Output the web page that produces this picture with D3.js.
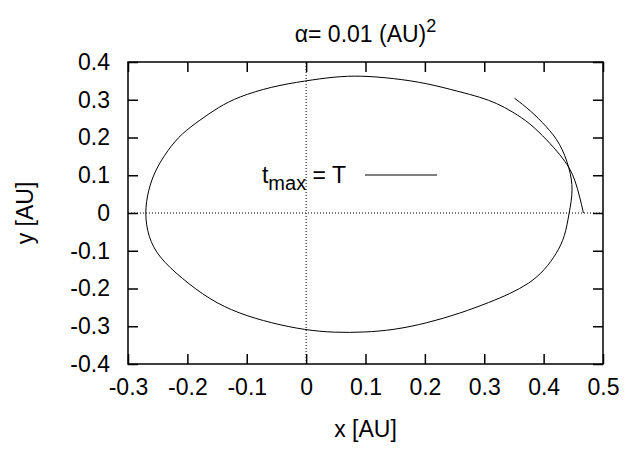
<!DOCTYPE html>
<html>
<head>
<meta charset="utf-8">
<script src="https://cdn.jsdelivr.net/npm/d3@7"></script>
<style>
  body { margin: 0; background: #fff; }
  text { font-family: "Liberation Sans", Arial, sans-serif; fill: #000; }
</style>
</head>
<body>
<div id="chart"></div>
<script>
// orbit x, y in AU (start at x=0.467, y=0, counter-clockwise)
const orbitX = [0.467, 0.461, 0.453, 0.444, 0.428, 0.406, 0.377, 0.348, 0.321, 0.293, 0.259, 0.203,
  0.147, 0.091, 0.048, -0.002, -0.058, -0.114, -0.148, -0.179, -0.210, -0.233, -0.254, -0.266,
  -0.272, -0.266, -0.249, -0.210, -0.162, -0.114, -0.058, -0.002, 0.048, 0.098, 0.147, 0.203,
  0.259, 0.310, 0.343, 0.376, 0.402, 0.422, 0.436, 0.443, 0.450, 0.444, 0.428, 0.405, 0.377, 0.351];
const orbitY = [0.000, 0.042, 0.087, 0.119, 0.154, 0.193, 0.238, 0.268, 0.291, 0.307, 0.321, 0.344,
  0.357, 0.364, 0.361, 0.350, 0.335, 0.308, 0.280, 0.246, 0.210, 0.167, 0.114, 0.061,
  0.000, -0.063, -0.116, -0.173, -0.230, -0.266, -0.292, -0.310, -0.317, -0.316, -0.310, -0.292,
  -0.266, -0.236, -0.214, -0.187, -0.151, -0.107, -0.063, 0.000, 0.061, 0.119, 0.185, 0.229, 0.273, 0.304];

const xTicks = [-0.3, -0.2, -0.1, 0, 0.1, 0.2, 0.3, 0.4, 0.5];
const yTicks = [-0.4, -0.3, -0.2, -0.1, 0, 0.1, 0.2, 0.3, 0.4];

const width = 628;
const height = 449;
const margin = { top: 62, right: 25, bottom: 85, left: 128 };
const fontSize = 23;

const svg = d3.select('#chart').append('svg')
  .attr('width', width)
  .attr('height', height)
  .style('font-size', `${fontSize}px`);

const x = d3.scaleLinear().domain([-0.3, 0.5]).range([margin.left, width - margin.right]);
const y = d3.scaleLinear().domain([-0.4, 0.4]).range([height - margin.bottom, margin.top]);

const fmt = d => (d === 0 ? '0' : d3.format('.1f')(d).replace('−', '-'));

// zero axes, dotted
const gZero = svg.append('g')
  .attr('stroke', '#000')
  .attr('stroke-width', 1)
  .attr('stroke-dasharray', '1,2');
gZero.append('line')
  .attr('x1', x(-0.3)).attr('x2', x(0.5))
  .attr('y1', y(0)).attr('y2', y(0));
gZero.append('line')
  .attr('x1', x(0)).attr('x2', x(0))
  .attr('y1', y(-0.4)).attr('y2', y(0.4));

// axes with inward ticks on all four sides
const tick = 10;
const axisBottom = d3.axisBottom(x).tickValues(xTicks).tickSizeInner(-tick).tickSizeOuter(0)
  .tickPadding(15).tickFormat(fmt);
const axisTop = d3.axisTop(x).tickValues(xTicks).tickSizeInner(-tick).tickSizeOuter(0).tickFormat('');
const axisLeft = d3.axisLeft(y).tickValues(yTicks).tickSizeInner(-tick).tickSizeOuter(0)
  .tickPadding(18).tickFormat(fmt);
const axisRight = d3.axisRight(y).tickValues(yTicks).tickSizeInner(-tick).tickSizeOuter(0).tickFormat('');

const styleAxis = (g) => {
  g.select('.domain').remove();
  g.selectAll('.tick line').attr('stroke', '#000').attr('stroke-width', 1.5);
  g.selectAll('.tick text')
    .attr('fill', '#000')
    .style('font-family', '"Liberation Sans", Arial, sans-serif')
    .style('font-size', `${fontSize}px`);
};

svg.append('g').attr('transform', `translate(0,${y(-0.4)})`).call(axisBottom).call(styleAxis);
svg.append('g').attr('transform', `translate(0,${y(0.4)})`).call(axisTop).call(styleAxis);
svg.append('g').attr('transform', `translate(${x(-0.3)},0)`).call(axisLeft).call(styleAxis);
svg.append('g').attr('transform', `translate(${x(0.5)},0)`).call(axisRight).call(styleAxis);

// border
svg.append('rect')
  .attr('x', x(-0.3))
  .attr('y', y(0.4))
  .attr('width', x(0.5) - x(-0.3))
  .attr('height', y(-0.4) - y(0.4))
  .attr('fill', 'none')
  .attr('stroke', '#000')
  .attr('stroke-width', 1.5);

// orbit
const points = orbitX.map((v, i) => [v, orbitY[i]]);
const line = d3.line()
  .x(d => x(d[0]))
  .y(d => y(d[1]))
  .curve(d3.curveBasis);

svg.append('path')
  .datum(points)
  .attr('fill', 'none')
  .attr('stroke', '#000')
  .attr('stroke-width', 1)
  .attr('d', line);

// key
const key = svg.append('g');
const keyText = key.append('text')
  .attr('x', 346)
  .attr('y', 183)
  .attr('text-anchor', 'end');
keyText.append('tspan').text('t');
keyText.append('tspan').attr('dy', 7).style('font-size', '20px').text('max');
keyText.append('tspan').attr('dy', -7).text(' = T');
key.append('line')
  .attr('x1', 365).attr('x2', 437)
  .attr('y1', 175).attr('y2', 175)
  .attr('stroke', '#000')
  .attr('stroke-width', 1);

// title
const title = svg.append('text')
  .attr('x', (x(-0.3) + x(0.5)) / 2)
  .attr('y', 42)
  .attr('text-anchor', 'middle');
title.append('tspan').text('α= 0.01 (AU)');
title.append('tspan').attr('dy', -10).style('font-size', '18px').text('2');

// axis labels
svg.append('text')
  .attr('x', (x(-0.3) + x(0.5)) / 2)
  .attr('y', 437)
  .attr('text-anchor', 'middle')
  .text('x [AU]');

svg.append('text')
  .attr('transform', `translate(33,${(y(-0.4) + y(0.4)) / 2}) rotate(-90)`)
  .attr('text-anchor', 'middle')
  .text('y [AU]');
</script>
</body>
</html>
